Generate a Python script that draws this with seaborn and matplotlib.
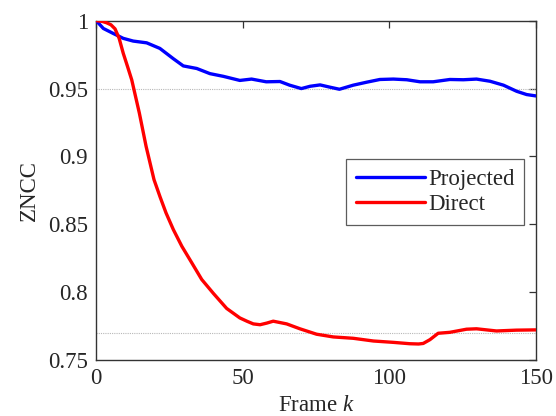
import matplotlib
matplotlib.use("Agg")
import matplotlib.pyplot as plt
import seaborn as sns
import pandas as pd

# Data
proj_k = [0, 2.4, 5.8, 9.2, 12.6, 17.2, 21.7, 26.3, 29.7, 34.3, 38.8, 43.4, 49, 53,
          58, 62.7, 66, 70, 73, 76.4, 79.8, 83, 87.7, 92.3, 96.8, 101.4, 106, 110.5,
          115, 120.7, 125.3, 129.8, 134.4, 139, 143.5, 146.9, 150]
proj_v = [1.0, 0.9943, 0.9906, 0.987, 0.985, 0.9837, 0.9796, 0.972, 0.9667, 0.9648,
          0.961, 0.959, 0.956, 0.957, 0.955, 0.9552, 0.9525, 0.950, 0.9517, 0.9527,
          0.951, 0.9495, 0.9525, 0.9547, 0.9567, 0.957, 0.9565, 0.955, 0.955, 0.9567,
          0.9565, 0.957, 0.9554, 0.9525, 0.948, 0.9456, 0.9446]

direct_k = [0, 2.0, 3.5, 5.0, 6.4, 7.8, 9.2, 10.7, 12.1, 14.7, 17.0, 19.7, 21.8, 23.8,
            26.3, 29.2, 32.6, 36.0, 40, 44.5, 49, 51.5, 53.6, 55.9, 58.2, 60.4, 65,
            69.5, 75.2, 80.9, 87.7, 94.6, 101.4, 107, 110, 111.6, 113.9, 116.7, 120.7,
            126.4, 129.8, 136.6, 143.4, 150]
direct_v = [1.0, 0.9995, 0.9985, 0.997, 0.994, 0.987, 0.976, 0.966, 0.9564, 0.9319,
            0.9074, 0.8829, 0.870, 0.8584, 0.8461, 0.8338, 0.8216, 0.8093, 0.799, 0.788,
            0.781, 0.7785, 0.7766, 0.776, 0.7772, 0.7786, 0.7766, 0.773, 0.769, 0.767,
            0.766, 0.764, 0.763, 0.762, 0.7618, 0.7622, 0.765, 0.7697, 0.7704, 0.7727,
            0.773, 0.7714, 0.772, 0.7722]

ref_levels = [0.95, 0.77]
x_ticks = [0, 50, 100, 150]
y_ticks = [0.75, 0.8, 0.85, 0.9, 0.95, 1.0]
y_tick_labels = ["0.75", "0.8", "0.85", "0.9", "0.95", "1"]

sns.set_style("white")
plt.rcParams["font.family"] = ["Liberation Serif", "DejaVu Serif"]
plt.rcParams["mathtext.fontset"] = "custom"
plt.rcParams["mathtext.it"] = "Liberation Serif:italic"
plt.rcParams["mathtext.rm"] = "Liberation Serif"

FS = 16.5

fig = plt.figure(figsize=(5.56, 4.16), dpi=100)
ax = fig.add_axes([0.1732, 0.1346, 0.7903, 0.8156])

for lv in ref_levels:
    ax.axhline(lv, color="#b8b8b8", lw=0.8, ls=(0, (1, 1)), zorder=1)

df_p = pd.DataFrame({"k": proj_k, "v": proj_v})
df_d = pd.DataFrame({"k": direct_k, "v": direct_v})
sns.lineplot(data=df_p, x="k", y="v", color="#0000ff", lw=2.4, ax=ax,
             label="Projected", zorder=3)
sns.lineplot(data=df_d, x="k", y="v", color="#ff0000", lw=2.4, ax=ax,
             label="Direct", zorder=3)

ax.set_xlim(0, 150)
ax.set_ylim(0.75, 1.0)
ax.set_xticks(x_ticks)
ax.set_xticklabels([str(t) for t in x_ticks])
ax.set_yticks(y_ticks)
ax.set_yticklabels(y_tick_labels)
ax.tick_params(direction="in", top=True, right=True, length=5, width=0.9,
               labelsize=FS, pad=6, color="#333333")
for s in ax.spines.values():
    s.set_color("#333333")
    s.set_linewidth(1.0)

ax.set_xlabel(r"Frame $k$", fontsize=FS, labelpad=4)
ax.set_ylabel("ZNCC", fontsize=FS, labelpad=6)

leg = ax.legend(loc="upper right", bbox_to_anchor=(0.974, 0.592),
                borderaxespad=0, fontsize=FS, handlelength=3.0,
                handletextpad=0.15, labelspacing=0.18, borderpad=0.42,
                fancybox=False, frameon=True)
leg.get_frame().set_edgecolor("#333333")
leg.get_frame().set_linewidth(0.9)

fig.savefig("out.png", dpi=100)
